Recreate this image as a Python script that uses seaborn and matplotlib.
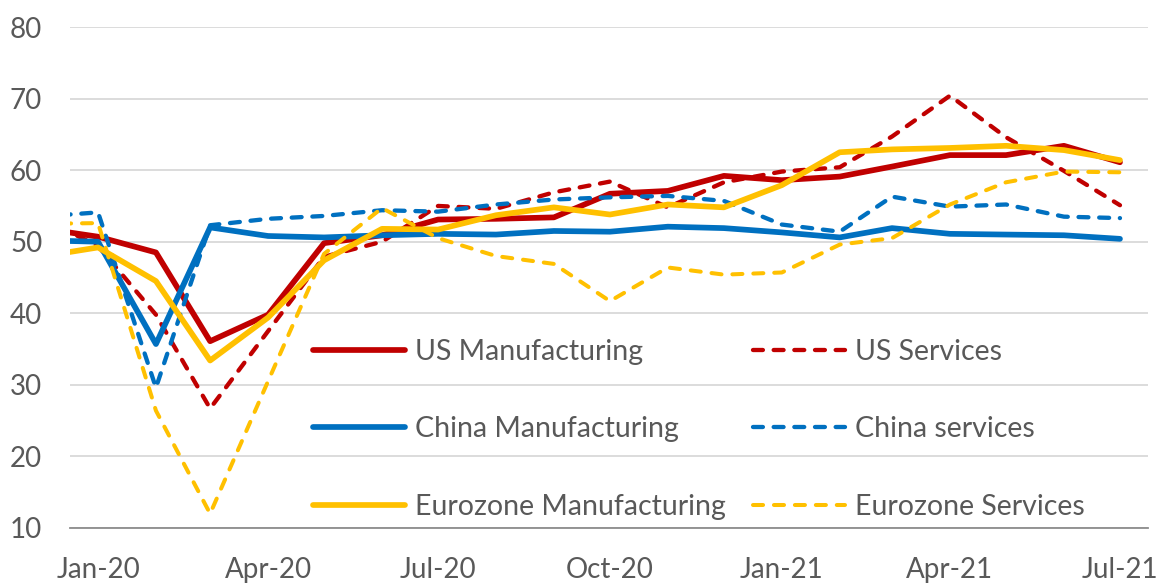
import pandas as pd
import matplotlib
matplotlib.use('Agg')
import matplotlib.pyplot as plt
import matplotlib.dates as mdates
import seaborn as sns

# monthly PMI readings, plotted mid-month (first point falls left of the axis and gets clipped)
months = pd.date_range('2019-12-01', '2021-07-01', freq='MS') + pd.Timedelta(days=15)

us_manufacturing = [51.9, 50.7, 48.5, 36.1, 39.8, 49.8, 50.9, 53.1, 53.2, 53.4,
                    56.7, 57.1, 59.2, 58.6, 59.1, 60.5, 62.1, 62.1, 63.4, 61.1]
us_services = [53.4, 49.4, 39.8, 26.7, 37.5, 47.9, 50.0, 55.0, 54.6, 56.9,
               58.4, 54.8, 58.3, 59.8, 60.4, 64.7, 70.4, 64.6, 59.9, 55.1]
china_manufacturing = [50.2, 50.0, 35.7, 52.0, 50.8, 50.6, 50.9, 51.1, 51.0, 51.5,
                       51.4, 52.1, 51.9, 51.3, 50.6, 51.9, 51.1, 51.0, 50.9, 50.4]
china_services = [53.5, 54.1, 29.6, 52.3, 53.2, 53.6, 54.4, 54.2, 55.2, 55.9,
                  56.2, 56.4, 55.7, 52.4, 51.4, 56.3, 54.9, 55.2, 53.5, 53.3]
ez_manufacturing = [47.9, 49.2, 44.5, 33.4, 39.4, 47.4, 51.8, 51.7, 53.7, 54.8,
                    53.8, 55.2, 54.8, 57.9, 62.5, 62.9, 63.1, 63.4, 62.8, 61.4]
ez_services = [52.5, 52.6, 26.4, 12.0, 30.5, 48.3, 54.7, 50.5, 48.0, 46.9,
               41.7, 46.4, 45.4, 45.7, 49.6, 50.5, 55.2, 58.3, 59.8, 59.7]

RED, BLUE, GOLD = '#C00000', '#0070C0', '#FFC000'
TXT = '#595959'

sns.set_style('white')
plt.rcParams['font.family'] = ['Lato', 'DejaVu Sans']

fig = plt.figure(figsize=(11.6, 5.83), dpi=100)
ax = fig.add_axes([70 / 1160, 1 - 528 / 583, (1148 - 70) / 1160, (528 - 27) / 583])

series = [
    ('US Manufacturing', us_manufacturing, RED, 4.1, None),
    ('US Services', us_services, RED, 3.1, (2.3, 2.5)),
    ('China Manufacturing', china_manufacturing, BLUE, 4.1, None),
    ('China services', china_services, BLUE, 3.1, (2.3, 2.5)),
    ('Eurozone Manufacturing', ez_manufacturing, GOLD, 4.1, None),
    ('Eurozone Services', ez_services, GOLD, 2.9, (2.5, 2.7)),
]

handles = {}
for name, vals, col, lw, dash in series:
    sns.lineplot(x=months, y=vals, ax=ax, color=col, linewidth=lw, label=name,
                 solid_capstyle='round', solid_joinstyle='round',
                 dash_capstyle='round', dash_joinstyle='round')
    line = ax.get_lines()[-1]
    if dash:
        line.set_dashes(dash)
    handles[name] = line

ax.set_xlim(pd.Timestamp('2020-01-01'), pd.Timestamp('2021-07-31'))
ax.set_ylim(10, 80)
ax.set_yticks(range(10, 81, 10))
# tick marks at the start of the quarter months, labels centred mid-month
ax.xaxis.set_major_locator(mdates.MonthLocator(bymonth=[1, 4, 7, 10]))
ax.xaxis.set_major_formatter(plt.NullFormatter())
ax.xaxis.set_minor_locator(mdates.MonthLocator(bymonth=[1, 4, 7, 10], bymonthday=16))
ax.xaxis.set_minor_formatter(mdates.DateFormatter('%b-%y'))
ax.set_xlabel('')
ax.set_ylabel('')

ax.grid(axis='y', color='#D9D9D9', linewidth=1.3)
ax.grid(axis='x', visible=False, which='both')
ax.set_axisbelow(True)
for s in ['left', 'right', 'top']:
    ax.spines[s].set_visible(False)
ax.spines['bottom'].set_color('#8C8C8C')
ax.spines['bottom'].set_linewidth(1.3)
ax.tick_params(axis='x', which='major', colors='#8C8C8C', length=6.5, width=1.3,
               direction='out')
ax.tick_params(axis='x', which='minor', length=0, labelsize=20, labelcolor=TXT, pad=21)
ax.tick_params(axis='y', length=0, labelsize=20, labelcolor=TXT, pad=20)

order = ['US Manufacturing', 'China Manufacturing', 'Eurozone Manufacturing',
         'US Services', 'China services', 'Eurozone Services']
leg = ax.legend([handles[n] for n in order], order, ncol=2, loc='upper left',
                bbox_to_anchor=(0.2254, 0.377), frameon=False, fontsize=20.5,
                handlelength=3.23, handletextpad=0.35, columnspacing=0.95,
                labelspacing=1.80, borderpad=0, borderaxespad=0)
for t in leg.get_texts():
    t.set_color(TXT)

fig.savefig('out.png', dpi=100)
